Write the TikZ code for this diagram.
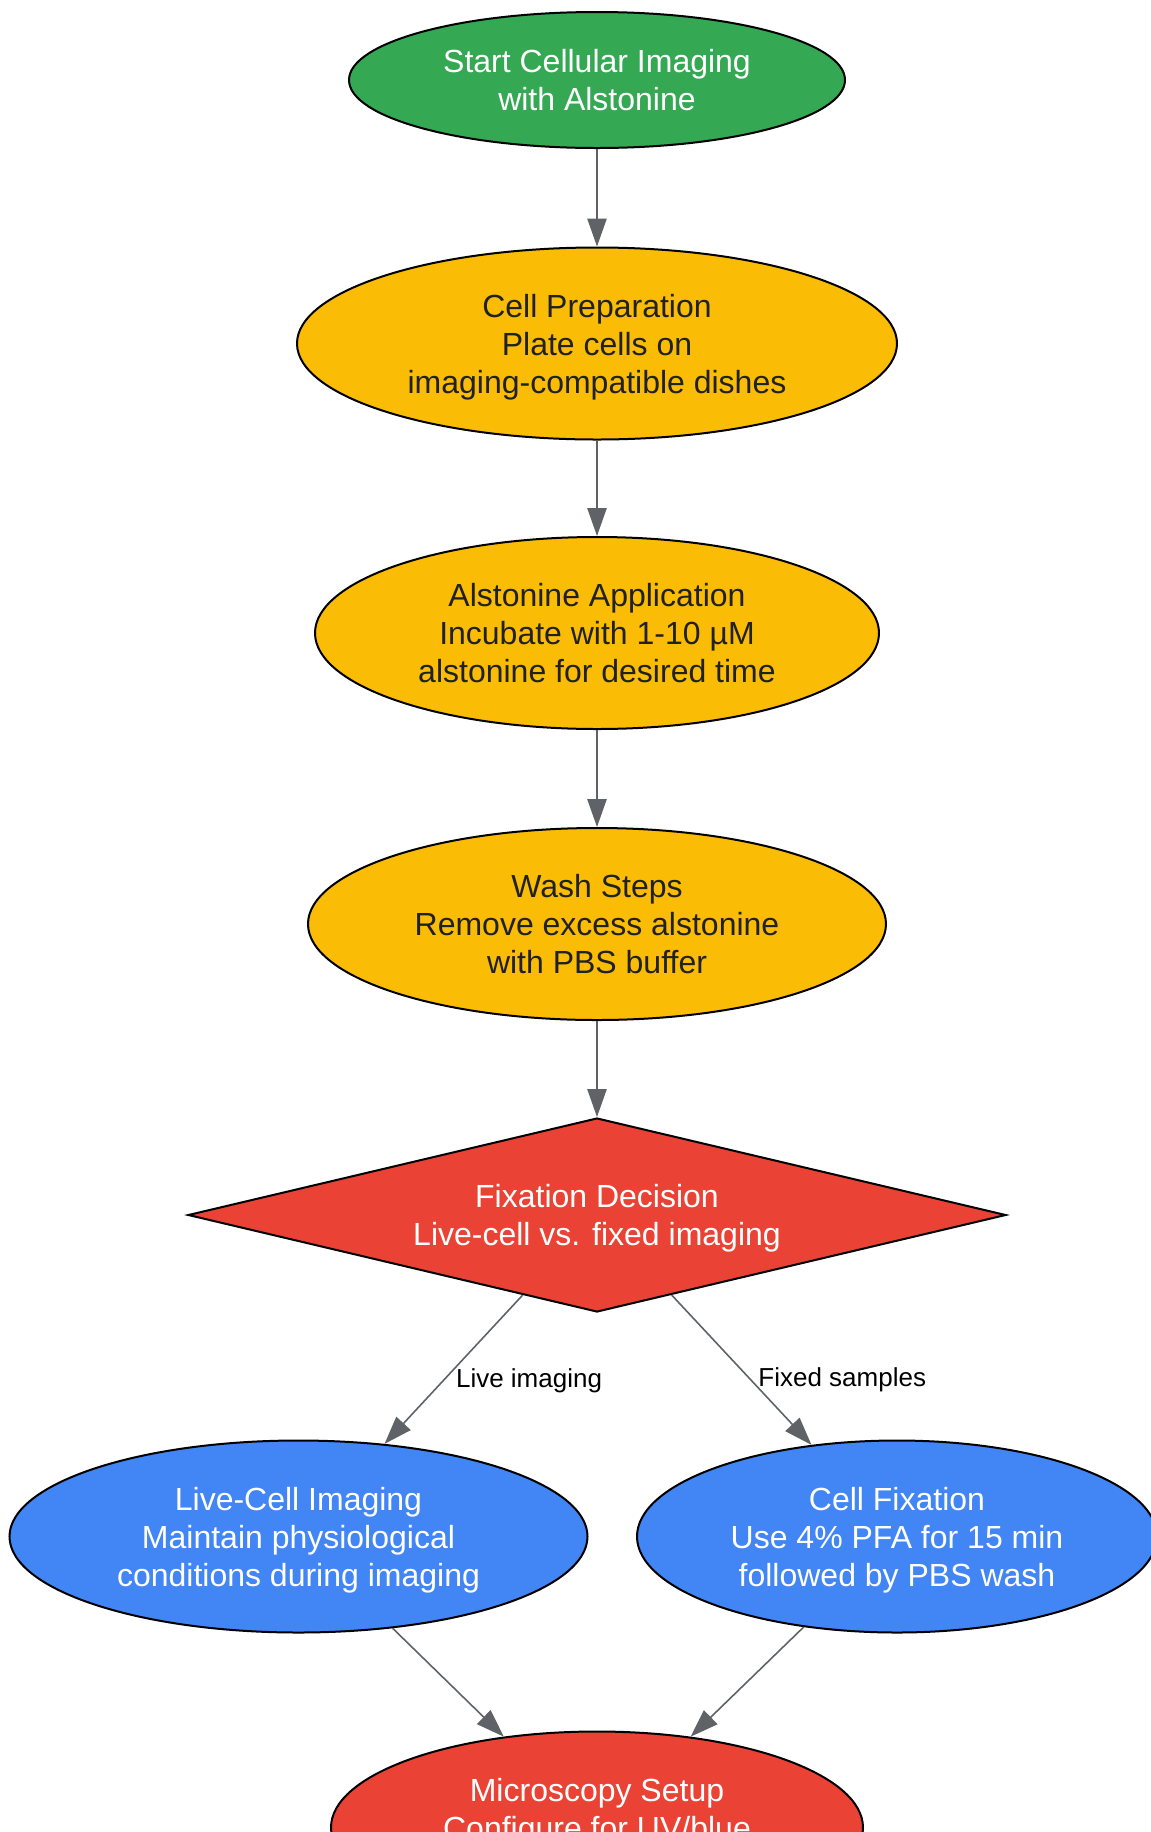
\documentclass[tikz,border=0pt]{standalone}
\usepackage{fontspec}
\setmainfont{Liberation Sans}
\usetikzlibrary{shapes.geometric, arrows.meta}
\definecolor{startgreen}{HTML}{34A853}
\definecolor{stepyellow}{HTML}{FBBC05}
\definecolor{decisionred}{HTML}{EA4335}
\definecolor{branchblue}{HTML}{4285F4}
\definecolor{edgegray}{HTML}{5F6368}
\definecolor{darktext}{HTML}{202124}
\begin{document}
\begin{tikzpicture}[x=0.75pt, y=-0.75pt,
    every node/.style={font=\fontsize{24}{28.5}\selectfont, align=center, inner sep=0pt, text depth=0pt},
    oval/.style={ellipse, draw=black, line width=1.5pt, minimum height=144pt},
    flow/.style={draw=edgegray, line width=1.2pt, -{Triangle[length=21pt, width=14.5pt]}},
    edgelabel/.style={font=\fontsize{19.5}{23}\selectfont, anchor=west, xshift=7pt}]
    \useasboundingbox (0,0) rectangle (1151,1832);
    % Main steps down the middle
    \node[oval, fill=startgreen, text=white, minimum width=372pt, minimum height=102pt] (start) at (597,80) {Start Cellular Imaging\\with Alstonine};
    \node[oval, fill=stepyellow, text=darktext, minimum width=450pt] (prep) at (597,343.5) {Cell Preparation\\Plate cells on\\imaging-compatible dishes};
    \node[oval, fill=stepyellow, text=darktext, minimum width=423pt] (apply) at (597,633) {Alstonine Application\\Incubate with 1-10 µM\\alstonine for desired time};
    \node[oval, fill=stepyellow, text=darktext, minimum width=433.5pt] (wash) at (597,924) {Wash Steps\\Remove excess alstonine\\with PBS buffer};
    \node[diamond, draw=black, line width=1.5pt, fill=decisionred, text=white, shape aspect=4.2, minimum width=613.5pt, minimum height=145.5pt] (decide) at (597,1215) {Fixation Decision\\Live-cell vs. fixed imaging};
    
    % The two branches and where they meet
    \node[oval, fill=branchblue, text=white, minimum width=433.5pt] (live) at (298.5,1536.5) {Live-Cell Imaging\\Maintain physiological\\conditions during imaging};
    \node[oval, fill=branchblue, text=white, minimum width=390pt] (fix) at (897,1536.5) {Cell Fixation\\Use 4\% PFA for 15 min\\followed by PBS wash};
    \node[oval, fill=decisionred, text=white, minimum width=399pt] (micro) at (597,1827.5) {Microscopy Setup\\Configure for UV/blue\\\strut};
    
    % Connect the steps
    \draw[flow] (start) -- (prep);
    \draw[flow] (prep) -- (apply);
    \draw[flow] (apply) -- (wash);
    \draw[flow] (wash) -- (decide);
    \draw[flow] (decide) -- node[edgelabel, pos=0.555] {Live imaging} (live);
    \draw[flow] (decide) -- node[edgelabel, pos=0.548] {Fixed samples} (fix);
    \draw[flow] (live) -- (micro);
    \draw[flow] (fix) -- (micro);
\end{tikzpicture}
\end{document}
